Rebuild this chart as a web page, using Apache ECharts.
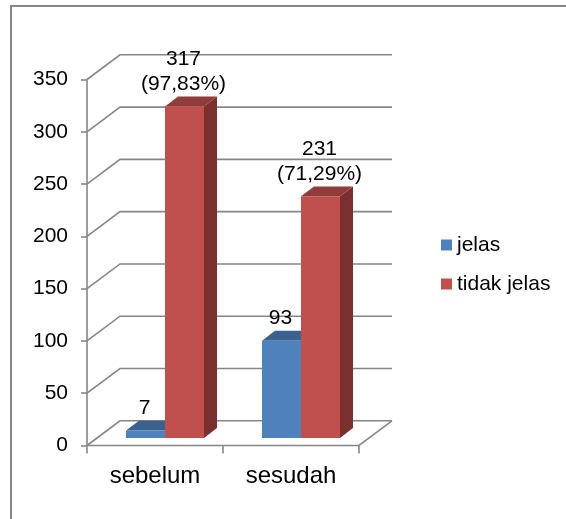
<!DOCTYPE html>
<html>
<head>
<meta charset="utf-8">
<style>html,body{margin:0;padding:0;background:#fff}#chart{width:566px;height:519px}</style>
<script src="https://cdn.jsdelivr.net/npm/echarts@6/dist/echarts.min.js"></script>
</head>
<body>
<div id="chart"></div>
<script>
const categories = ['sebelum', 'sesudah'];
const jelas = [7, 93];
const tidakJelas = [317, 231];
const jelasLabels = ['7', '93'];
const tidakJelasLabels = ['317\n(97,83%)', '231\n(71,29%)'];
const axisTicks = [0, 50, 100, 150, 200, 250, 300, 350];

const FONT = '"Liberation Sans", Arial, sans-serif';
const GRID = '#868686';
// Oblique offset of the back wall relative to the front plane.
const WALL_DX = 33, WALL_DY = -24.7;
// Bars sit part way into the floor: front face and depth of each prism.
const BAR_DX = 10, BAR_DY = -7.6, DEPTH_DX = 13, DEPTH_DY = -9.8;

function wallLine(params, api) {
  const p = api.coord([0, api.value(0)]);
  const left = params.coordSys.x;
  const right = left + params.coordSys.width;
  const style = { stroke: GRID, lineWidth: 1.6, fill: null };
  const y = p[1];
  const shapes = [
    { type: 'polyline', shape: { points: [[left, y], [left + WALL_DX, y + WALL_DY], [right + WALL_DX, y + WALL_DY]] }, style }
  ];
  if (api.value(0) === 0) {
    shapes.push({ type: 'polyline', shape: { points: [[left, y], [right, y], [right + WALL_DX, y + WALL_DY]] }, style });
  }
  return { type: 'group', children: shapes };
}

function prism(side, labels, colors) {
  return function (params, api) {
    const cat = api.value(0);
    const val = api.value(1);
    const band = api.size([1, 0])[0];
    const w = band * 0.2868;
    const c = api.coord([cat, val]);
    const b = api.coord([cat, 0]);
    const x0 = c[0] + BAR_DX + (side < 0 ? -w : 0);
    const x1 = x0 + w;
    const top = c[1] + BAR_DY;
    const base = b[1] + BAR_DY;
    return {
      type: 'group',
      children: [
        { type: 'polygon', shape: { points: [[x1, top], [x1 + DEPTH_DX, top + DEPTH_DY], [x1 + DEPTH_DX, base + DEPTH_DY], [x1, base]] }, style: { fill: colors.side } },
        { type: 'polygon', shape: { points: [[x0, top], [x0 + DEPTH_DX, top + DEPTH_DY], [x1 + DEPTH_DX, top + DEPTH_DY], [x1, top]] }, style: { fill: colors.top } },
        { type: 'rect', shape: { x: x0, y: top, width: w, height: base - top }, style: { fill: colors.front } },
        { type: 'text', x: (x0 + x1) / 2 - 1, y: top - 10, style: { text: labels[cat], fill: '#000', font: '21px ' + FONT, align: 'center', verticalAlign: 'bottom', lineHeight: 24.5 }, z2: 10 }
      ]
    };
  };
}

const chart = echarts.init(document.getElementById('chart'), null, { renderer: 'canvas' });
chart.setOption({
  animation: false,
  backgroundColor: '#fff',
  // Outer frame: only the top and left edges are ruled.
  graphic: [{
    type: 'polyline', silent: true, z: -1,
    shape: { points: [[11, 519], [11, 6], [566, 6]] },
    style: { fill: null, stroke: GRID, lineWidth: 2 }
  }],
  grid: { left: 87, top: 79.5, width: 272, height: 366 },
  legend: {
    orient: 'vertical', left: 436, top: 228, itemWidth: 11, itemHeight: 11, itemGap: 15,
    icon: 'rect', data: ['jelas', 'tidak jelas'],
    textStyle: { fontFamily: FONT, fontSize: 21, color: '#000', lineHeight: 24 }
  },
  xAxis: {
    type: 'category', data: categories,
    axisLine: { show: false },
    axisTick: { show: true, alignWithLabel: false, length: 8, lineStyle: { color: GRID, width: 1.6 } },
    axisLabel: { fontFamily: FONT, fontSize: 24, color: '#000', margin: 19 }
  },
  yAxis: {
    type: 'value', min: 0, max: 350, interval: 50,
    splitLine: { show: false },
    axisLine: { show: true, lineStyle: { color: GRID, width: 1.6 } },
    axisTick: { show: true, length: 6, lineStyle: { color: GRID, width: 1.6 } },
    axisLabel: { fontFamily: FONT, fontSize: 21, color: '#000', margin: 19, padding: [2, 0, 0, 0] }
  },
  series: [
    { type: 'custom', silent: true, data: axisTicks.map(v => [v]), renderItem: wallLine, encode: { y: 0 }, z: 1 },
    { type: 'custom', name: 'jelas', silent: true, itemStyle: { color: '#4F81BD' }, data: jelas.map((v, i) => [i, v]), encode: { x: 0, y: 1 }, z: 2,
      renderItem: prism(-1, jelasLabels, { front: '#4F81BD', top: '#3B618F', side: '#2F4E74' }) },
    { type: 'custom', name: 'tidak jelas', silent: true, itemStyle: { color: '#C0504D' }, data: tidakJelas.map((v, i) => [i, v]), encode: { x: 0, y: 1 }, z: 3,
      renderItem: prism(1, tidakJelasLabels, { front: '#C0504D', top: '#8F3C3A', side: '#7A302E' }) }
  ]
});
</script>
</body>
</html>
